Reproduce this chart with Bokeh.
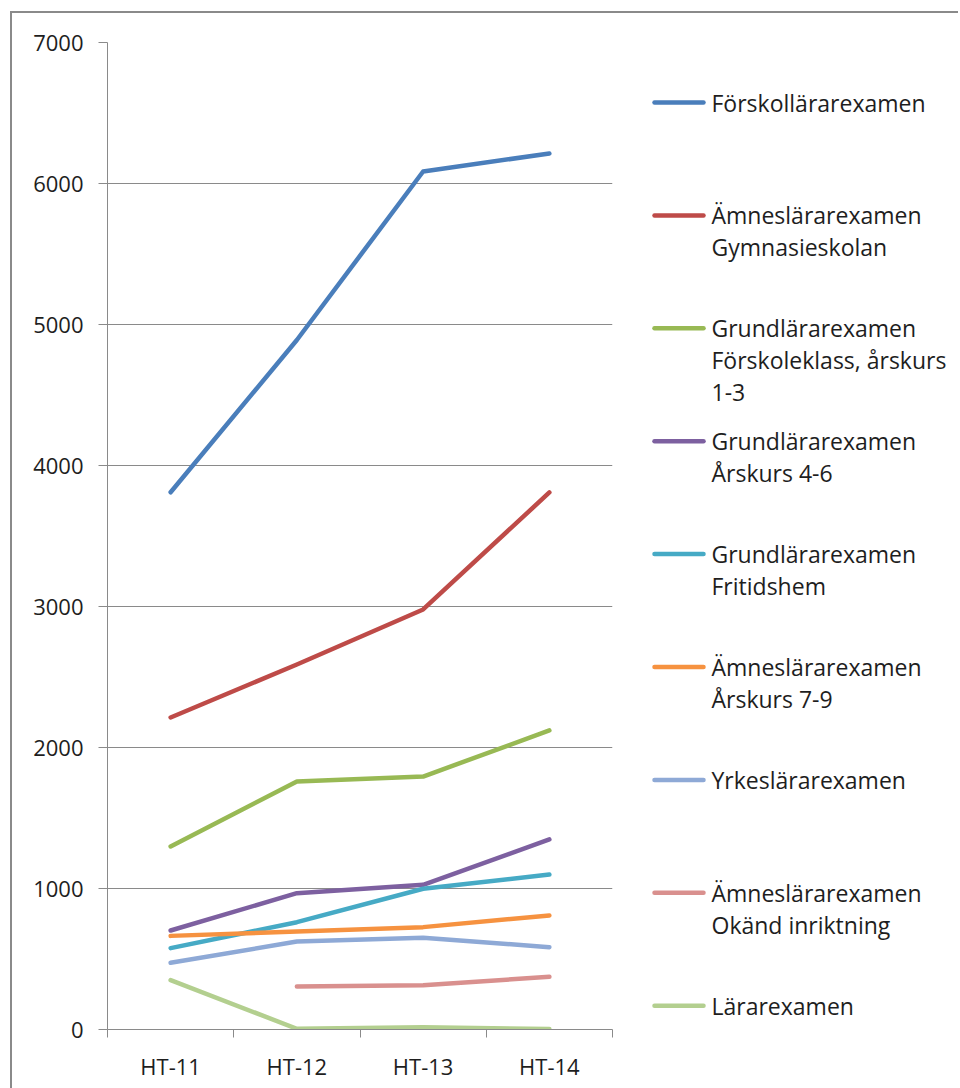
from bokeh.plotting import figure
from bokeh.models import Range1d, FixedTicker, ColumnDataSource
from bokeh.layouts import row
from bokeh.core.properties import value
from bokeh.embed import file_html
from bokeh.resources import INLINE

nan = float("nan")

categories = ["HT-11", "HT-12", "HT-13", "HT-14"]

series_names = [
    "Förskollärarexamen",
    "Ämneslärarexamen\nGymnasieskolan",
    "Grundlärarexamen\nFörskoleklass, årskurs\n1-3",
    "Grundlärarexamen\nÅrskurs 4-6",
    "Grundlärarexamen\nFritidshem",
    "Ämneslärarexamen\nÅrskurs 7-9",
    "Yrkeslärarexamen",
    "Ämneslärarexamen\nOkänd inriktning",
    "Lärarexamen",
]

forskollarare = [3810, 4890, 6085, 6213]
amne_gymnasie = [2213, 2589, 2979, 3809]
grund_fk_1_3 = [1298, 1759, 1794, 2121]
grund_4_6 = [702, 967, 1026, 1348]
grund_fritids = [577, 761, 998, 1099]
amne_7_9 = [664, 695, 726, 809]
yrkes = [473, 624, 650, 584]
amne_okand = [nan, 305, 314, 374]
lararexamen = [350, 5, 16, 3]

series_values = [forskollarare, amne_gymnasie, grund_fk_1_3, grund_4_6,
                 grund_fritids, amne_7_9, yrkes, amne_okand, lararexamen]

colors = ["#4A7EBB", "#BE4B48", "#98B954", "#7D60A0", "#46AAC5",
          "#F69240", "#8EA9D6", "#D9908E", "#B3CF8F"]

y_ticks = [0, 1000, 2000, 3000, 4000, 5000, 6000, 7000]

FONT = "Open Sans"
GRID = "#8a8a8a"
TXT = "#1e1e1e"
H = 1075
W1 = 620
W2 = 326
MT, MB = 29, 59

# ---------------- main chart ----------------
p = figure(width=W1, height=H, output_backend="svg", toolbar_location=None,
           x_range=Range1d(0, len(categories)), y_range=Range1d(0, 7000),
           min_border_left=95, min_border_top=MT, min_border_bottom=MB,
           min_border_right=20)
p.outline_line_color = None
p.background_fill_color = "white"
p.border_fill_color = "white"

xs = [i + 0.5 for i in range(len(categories))]
for vals, col in zip(series_values, colors):
    p.line(xs, vals, line_color=col, line_width=4.5, line_cap="round", line_join="round")

# x axis: labels at category centres, tick marks at band boundaries
p.xaxis.ticker = FixedTicker(ticks=xs, minor_ticks=list(range(len(categories) + 1)))
p.xaxis.major_label_overrides = {x: c for x, c in zip(xs, categories)}
p.xaxis.major_tick_out = 0
p.xaxis.major_tick_in = 0
p.xaxis.minor_tick_out = 8
p.xaxis.minor_tick_in = 0
p.xaxis.minor_tick_line_color = GRID
p.xaxis.axis_line_color = GRID
p.xaxis.major_label_standoff = 13
p.xaxis.major_label_text_font = FONT
p.xaxis.major_label_text_font_size = "22px"
p.xaxis.major_label_text_color = TXT

p.yaxis.ticker = FixedTicker(ticks=y_ticks, minor_ticks=[])
p.yaxis.major_tick_out = 9
p.yaxis.major_tick_in = 0
p.yaxis.major_tick_line_color = GRID
p.yaxis.axis_line_color = GRID
p.yaxis.major_label_standoff = 15
p.yaxis.major_label_text_font = FONT
p.yaxis.major_label_text_font_size = "22px"
p.yaxis.major_label_text_color = TXT

p.xgrid.grid_line_color = None
p.ygrid.grid_line_color = GRID
p.ygrid.ticker = FixedTicker(ticks=y_ticks)

# ---------------- legend panel (page-pixel coordinates) ----------------
lg = figure(width=W2, height=H, output_backend="svg", toolbar_location=None,
            x_range=Range1d(632, 632 + W2), y_range=Range1d(1029, 42),
            min_border_left=0, min_border_right=0,
            min_border_top=MT, min_border_bottom=MB)
lg.axis.visible = False
lg.grid.visible = False
lg.outline_line_color = None
lg.border_fill_color = "white"

y0, step, lh = 102, 112.9, 32
seg = dict(x0=[], x1=[], y=[], c=[])
txt = dict(x=[], y=[], t=[])
for i, (name, col) in enumerate(zip(series_names, colors)):
    yy = y0 + i * step
    seg["x0"].append(654); seg["x1"].append(703); seg["y"].append(yy); seg["c"].append(col)
    for k, line in enumerate(name.split("\n")):
        txt["x"].append(711); txt["y"].append(yy + k * lh); txt["t"].append(line)

lg.segment(x0="x0", y0="y", x1="x1", y1="y", line_color="c", line_width=4.5,
           line_cap="round", source=ColumnDataSource(seg))
lg.text(x="x", y="y", text="t", text_font=value(FONT), text_font_size="23px",
        text_color=TXT, text_baseline="middle", text_align="left",
        source=ColumnDataSource(txt))

layout = row(p, lg, styles={"border-left": "2px solid #8a8a8a",
                            "border-top": "2px solid #8a8a8a",
                            "margin-left": "10px", "margin-top": "11px"})

open("out.html", "w").write(file_html(layout, INLINE))
